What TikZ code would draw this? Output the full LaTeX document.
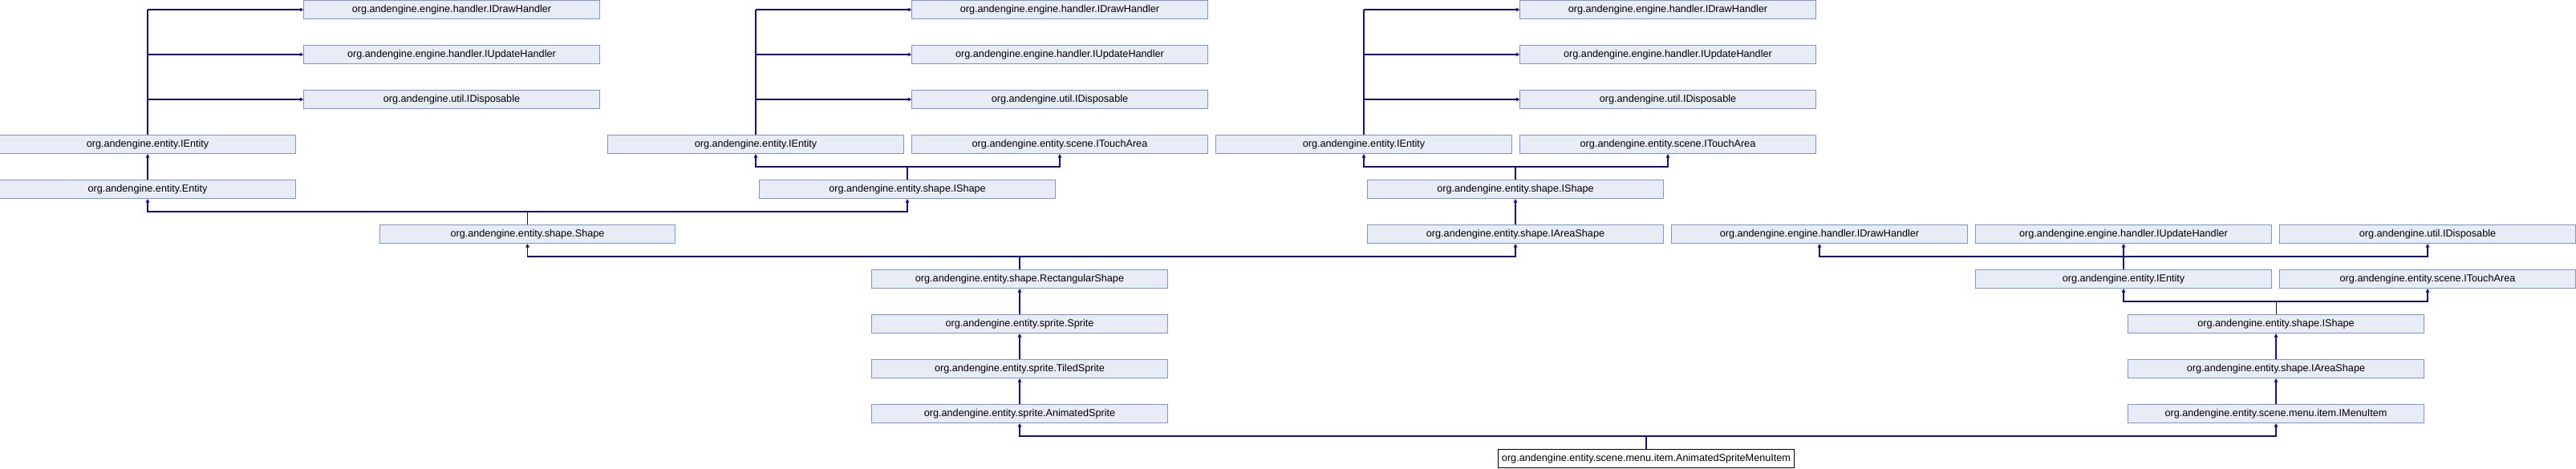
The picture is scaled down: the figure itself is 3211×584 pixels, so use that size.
\documentclass[tikz,border=0pt]{standalone}
\usepackage{fontspec}
\setmainfont{Liberation Sans}
\usetikzlibrary{arrows.meta}
\definecolor{edgeblue}{RGB}{16,16,144}
\definecolor{boxfill}{RGB}{232,236,244}
\definecolor{boxline}{RGB}{124,148,208}
\begin{document}
\begin{tikzpicture}[x=0.01cm,y=-0.01cm,
 cls/.style={draw=boxline,fill=boxfill,line width=0.3pt,minimum width=3.68cm,minimum height=0.23cm,inner sep=0pt,font=\fontsize{3.6}{4}\selectfont},
 thiscls/.style={cls,draw=black,fill=white},
 inh/.style={draw=edgeblue,line width=0.45pt,-{Triangle[length=1.3pt,width=1.3pt]}},
 bus/.style={draw=edgeblue,line width=0.45pt},
 stub/.style={draw=edgeblue,line width=0.3pt}]
 \useasboundingbox (0,0) rectangle (3211,584);
 \coordinate (bus4) at (0,208);
 \coordinate (bus5) at (0,264);
 \coordinate (bus6) at (0,320);
 \coordinate (bus7) at (0,376);
 \coordinate (bus10) at (0,544);
 \node[cls] (g1draw) at (563,12) {org.andengine.engine.handler.IDrawHandler};
 \node[cls] (g1upd) at (563,68) {org.andengine.engine.handler.IUpdateHandler};
 \node[cls] (g1disp) at (563,124) {org.andengine.util.IDisposable};
 \node[cls] (g1ient) at (184,180) {org.andengine.entity.IEntity};
 \node[cls] (g1entity) at (184,236) {org.andengine.entity.Entity};
 \node[cls] (shape) at (657.5,292) {org.andengine.entity.shape.Shape};
 \node[cls] (g2draw) at (1321,12) {org.andengine.engine.handler.IDrawHandler};
 \node[cls] (g2upd) at (1321,68) {org.andengine.engine.handler.IUpdateHandler};
 \node[cls] (g2disp) at (1321,124) {org.andengine.util.IDisposable};
 \node[cls] (g2ient) at (942,180) {org.andengine.entity.IEntity};
 \node[cls] (g2touch) at (1321,180) {org.andengine.entity.scene.ITouchArea};
 \node[cls] (g2ishape) at (1131,236) {org.andengine.entity.shape.IShape};
 \node[cls] (g3draw) at (2079,12) {org.andengine.engine.handler.IDrawHandler};
 \node[cls] (g3upd) at (2079,68) {org.andengine.engine.handler.IUpdateHandler};
 \node[cls] (g3disp) at (2079,124) {org.andengine.util.IDisposable};
 \node[cls] (g3ient) at (1700,180) {org.andengine.entity.IEntity};
 \node[cls] (g3touch) at (2079,180) {org.andengine.entity.scene.ITouchArea};
 \node[cls] (g3ishape) at (1889,236) {org.andengine.entity.shape.IShape};
 \node[cls] (g3area) at (1889,292) {org.andengine.entity.shape.IAreaShape};
 \node[cls] (rect) at (1271,348) {org.andengine.entity.shape.RectangularShape};
 \node[cls] (sprite) at (1271,404) {org.andengine.entity.sprite.Sprite};
 \node[cls] (tiled) at (1271,460) {org.andengine.entity.sprite.TiledSprite};
 \node[cls] (anim) at (1271,516) {org.andengine.entity.sprite.AnimatedSprite};
 \node[cls] (g4draw) at (2268,292) {org.andengine.engine.handler.IDrawHandler};
 \node[cls] (g4upd) at (2647,292) {org.andengine.engine.handler.IUpdateHandler};
 \node[cls] (g4disp) at (3026,292) {org.andengine.util.IDisposable};
 \node[cls] (g4ient) at (2647,348) {org.andengine.entity.IEntity};
 \node[cls] (g4touch) at (3026,348) {org.andengine.entity.scene.ITouchArea};
 \node[cls] (g4ishape) at (2837,404) {org.andengine.entity.shape.IShape};
 \node[cls] (g4area) at (2837,460) {org.andengine.entity.shape.IAreaShape};
 \node[cls] (g4menu) at (2837,516) {org.andengine.entity.scene.menu.item.IMenuItem};
 \node[thiscls] (item) at (2052,572) {org.andengine.entity.scene.menu.item.AnimatedSpriteMenuItem};
 \foreach \g in {g1,g2,g3}{
 \draw[bus] (\g ient.north) -- (\g ient.north |- \g draw.west);
 \foreach \t in {draw,upd,disp}
 \draw[inh] (\g ient.north |- \g\t.west) -- (\g\t.west);
 }
 \draw[inh] (g1entity.north) -- (g1ient.south);
 \draw[stub] (shape.north) -- (shape.north |- bus5);
 \draw[inh] (shape.north |- bus5) -| (g1entity.south);
 \draw[inh] (shape.north |- bus5) -| (g2ishape.south);
 \foreach \g in {g2,g3}{
 \draw[stub] (\g ishape.north) -- (\g ishape.north |- bus4);
 \draw[inh] (\g ishape.north |- bus4) -| (\g ient.south);
 \draw[inh] (\g ishape.north |- bus4) -| (\g touch.south);
 }
 \draw[inh] (g3area.north) -- (g3ishape.south);
 \draw[stub] (rect.north) -- (rect.north |- bus6);
 \draw[inh] (rect.north |- bus6) -| (shape.south);
 \draw[inh] (rect.north |- bus6) -| (g3area.south);
 \draw[inh] (sprite.north) -- (rect.south);
 \draw[inh] (tiled.north) -- (sprite.south);
 \draw[inh] (anim.north) -- (tiled.south);
 \draw[stub] (g4ient.north) -- (g4ient.north |- bus6);
 \foreach \t in {g4draw,g4upd,g4disp}
 \draw[inh] (g4ient.north |- bus6) -| (\t.south);
 \draw[stub] (g4ishape.north) -- (g4ishape.north |- bus7);
 \draw[inh] (g4ishape.north |- bus7) -| (g4ient.south);
 \draw[inh] (g4ishape.north |- bus7) -| (g4touch.south);
 \draw[inh] (g4area.north) -- (g4ishape.south);
 \draw[inh] (g4menu.north) -- (g4area.south);
 \draw[stub] (item.north) -- (item.north |- bus10);
 \draw[inh] (item.north |- bus10) -| (anim.south);
 \draw[inh] (item.north |- bus10) -| (g4menu.south);
\end{tikzpicture}
\end{document}
